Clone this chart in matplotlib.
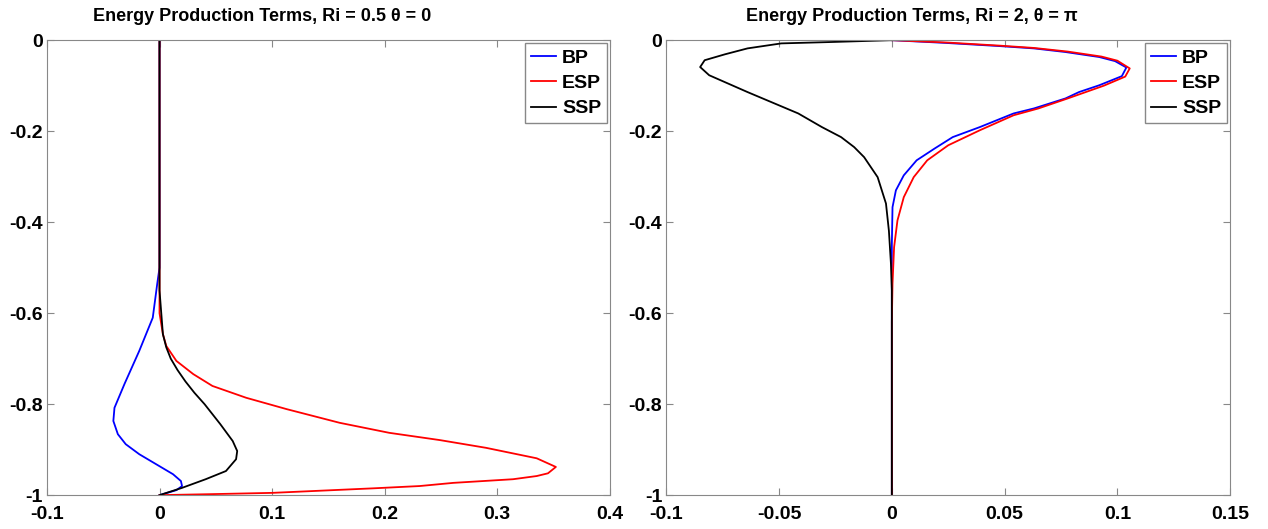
import numpy as np
import matplotlib
matplotlib.use("Agg")
import matplotlib.pyplot as plt

plt.rcParams['font.family'] = ['Liberation Sans', 'DejaVu Sans']
plt.rcParams['font.weight'] = 'bold'
plt.rcParams['axes.unicode_minus'] = False

# left panel: Ri = 0.5, theta = 0
l_bp_y = [0, -0.5, -0.535, -0.61, -0.683, -0.755, -0.808, -0.837, -0.866, -0.888, -0.910,
          -0.932, -0.954, -0.969, -0.980, -0.989, -1.0]
l_bp_x = [0, 0, -0.002, -0.006, -0.018, -0.031, -0.040, -0.041, -0.037, -0.030, -0.018,
          -0.003, 0.012, 0.019, 0.020, 0.015, 0]

l_esp_y = [0, -0.6, -0.646, -0.672, -0.705, -0.734, -0.760, -0.786, -0.811, -0.841, -0.863,
           -0.879, -0.896, -0.919, -0.938, -0.952, -0.958, -0.965, -0.973, -0.980, -0.985,
           -0.995, -0.998, -1.0]
l_esp_x = [0, 0, 0.003, 0.006, 0.015, 0.030, 0.047, 0.077, 0.113, 0.160, 0.204,
           0.249, 0.290, 0.335, 0.352, 0.345, 0.335, 0.314, 0.261, 0.231, 0.190,
           0.100, 0.042, 0]

l_ssp_y = [0, -0.55, -0.646, -0.675, -0.700, -0.725, -0.750, -0.775, -0.800, -0.844, -0.881,
           -0.903, -0.921, -0.947, -0.965, -0.984, -1.0]
l_ssp_x = [0, 0, 0.003, 0.006, 0.010, 0.016, 0.023, 0.031, 0.040, 0.054, 0.065,
           0.069, 0.068, 0.059, 0.041, 0.020, 0]

# right panel: Ri = 2, theta = pi
r_bp_y = [0, -0.006, -0.013, -0.018, -0.026, -0.037, -0.046, -0.060, -0.079, -0.099, -0.114,
          -0.128, -0.150, -0.161, -0.191, -0.213, -0.238, -0.264, -0.297, -0.330, -0.367,
          -0.45, -1]
r_bp_x = [0, 0.024, 0.048, 0.063, 0.077, 0.092, 0.099, 0.104, 0.102, 0.092, 0.083,
          0.077, 0.063, 0.054, 0.039, 0.027, 0.019, 0.011, 0.0053, 0.0018, 0.0003,
          0, 0]

r_esp_y = [0, -0.005, -0.012, -0.017, -0.025, -0.036, -0.045, -0.062, -0.080, -0.100, -0.128,
           -0.150, -0.165, -0.198, -0.231, -0.264, -0.301, -0.345, -0.396, -0.455, -0.535,
           -0.62, -1]
r_esp_x = [0, 0.024, 0.048, 0.063, 0.078, 0.093, 0.100, 0.1055, 0.1035, 0.094, 0.078,
           0.065, 0.054, 0.039, 0.025, 0.0157, 0.0097, 0.0053, 0.0025, 0.0010, 0.0003,
           0, 0]

r_ssp_y = [0, -0.004, -0.007, -0.018, -0.031, -0.044, -0.059, -0.077, -0.114, -0.161, -0.191,
           -0.213, -0.235, -0.257, -0.279, -0.301, -0.359, -0.419, -0.491, -0.55, -1]
r_ssp_x = [0, -0.027, -0.049, -0.064, -0.074, -0.083, -0.085, -0.081, -0.064, -0.0415, -0.031,
           -0.0225, -0.0167, -0.0123, -0.0093, -0.0063, -0.0026, -0.0013, -0.0004, 0, 0]

y_ticks = [0, -0.2, -0.4, -0.6, -0.8, -1]
y_labels = ['0', '-0.2', '-0.4', '-0.6', '-0.8', '-1']
l_xticks = [-0.1, 0, 0.1, 0.2, 0.3, 0.4]
l_xlabels = ['-0.1', '0', '0.1', '0.2', '0.3', '0.4']
r_xticks = [-0.1, -0.05, 0, 0.05, 0.1, 0.15]
r_xlabels = ['-0.1', '-0.05', '0', '0.05', '0.1', '0.15']

titles = ['Energy Production Terms, Ri = 0.5 \u03b8 = 0',
          'Energy Production Terms, Ri = 2, \u03b8 = \u03c0']
title_x = [0.382, 0.435]

fig = plt.figure(figsize=(12.68, 5.29), dpi=100)
ax1 = fig.add_axes([0.037, 0.064, 0.444, 0.86])
ax2 = fig.add_axes([0.5255, 0.064, 0.4446, 0.86])

panels = [
    (ax1, (l_bp_x, l_bp_y), (l_esp_x, l_esp_y), (l_ssp_x, l_ssp_y), l_xticks, l_xlabels, (-0.1, 0.4)),
    (ax2, (r_bp_x, r_bp_y), (r_esp_x, r_esp_y), (r_ssp_x, r_ssp_y), r_xticks, r_xlabels, (-0.1, 0.15)),
]

for i, (ax, bp, esp, ssp, xt, xl, xlim) in enumerate(panels):
    ax.plot(bp[0], bp[1], color='#0000ff', lw=1.3, label='BP')
    ax.plot(esp[0], esp[1], color='#ff0000', lw=1.3, label='ESP')
    ax.plot(ssp[0], ssp[1], color='black', lw=1.3, label='SSP')
    ax.set_xlim(*xlim)
    ax.set_ylim(-1, 0)
    ax.set_xticks(xt)
    ax.set_xticklabels(xl)
    ax.set_yticks(y_ticks)
    ax.set_yticklabels(y_labels)
    ax.tick_params(direction='in', top=True, right=True, length=5, color='#888888',
                   labelsize=14)
    ax.tick_params(axis='x', pad=8)
    ax.tick_params(axis='y', pad=3)
    for lab in ax.get_xticklabels() + ax.get_yticklabels():
        lab.set_fontweight('bold')
    for sp in ax.spines.values():
        sp.set_color('#888888')
    ax.set_title(titles[i], fontsize=13, fontweight='bold', x=title_x[i], pad=14)
    leg = ax.legend(loc='upper right', fontsize=14, handlelength=1.3, handletextpad=0.3,
                    borderaxespad=0.15, fancybox=False, framealpha=1, borderpad=0.3,
                    labelspacing=0.4)
    leg.get_frame().set_edgecolor('#888888')
    for t in leg.get_texts():
        t.set_fontweight('bold')

fig.savefig('out.png', dpi=100)
